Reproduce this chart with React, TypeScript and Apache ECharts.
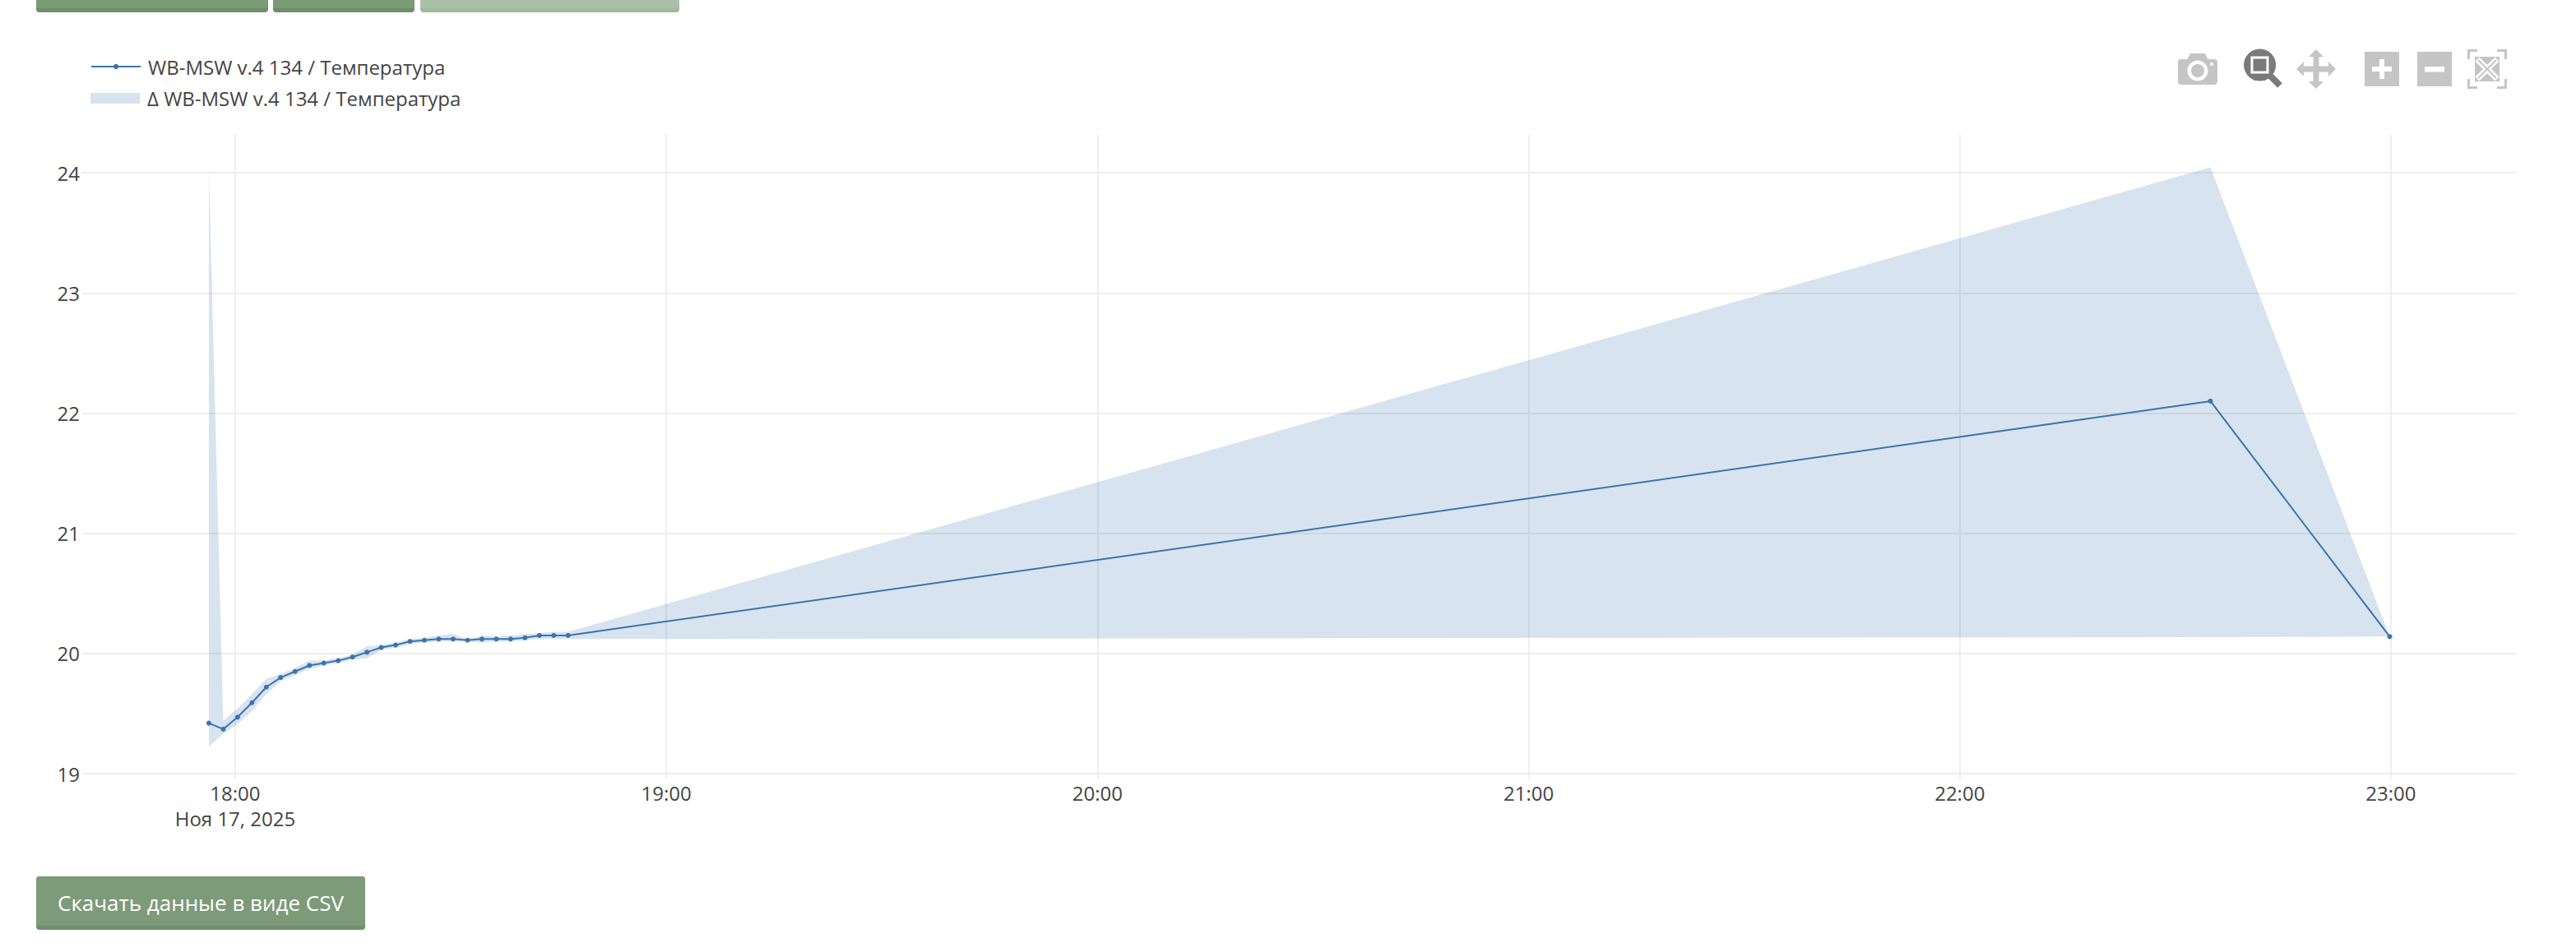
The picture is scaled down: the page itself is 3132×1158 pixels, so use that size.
import React, { useEffect, useRef } from "react";
import * as echarts from "echarts";

const times = [
  "17:56:20","17:58:20","18:00:20","18:02:20","18:04:20","18:06:20","18:08:20","18:10:20",
  "18:12:20","18:14:20","18:16:20","18:18:20","18:20:20","18:22:20","18:24:20","18:26:20",
  "18:28:20","18:30:20","18:32:20","18:34:20","18:36:20","18:38:20","18:40:20","18:42:20",
  "18:44:20","18:46:20","22:34:53","22:59:50",
];
const temperature = [
  19.42,19.37,19.47,19.59,19.72,19.80,19.85,19.90,19.92,19.94,19.97,20.01,20.05,20.07,
  20.10,20.11,20.12,20.12,20.11,20.12,20.12,20.12,20.13,20.15,20.15,20.15,22.10,20.14,
];
const upper = [
  24.05,19.44,19.54,19.66,19.79,19.83,19.88,19.94,19.94,19.96,19.99,20.06,20.07,20.09,
  20.12,20.13,20.15,20.16,20.12,20.15,20.14,20.15,20.16,20.17,20.18,20.18,24.045,20.14,
];
const lower = [
  19.226,19.33,19.41,19.52,19.66,19.77,19.82,19.87,19.90,19.92,19.95,19.96,20.03,20.05,
  20.08,20.09,20.10,20.10,20.10,20.09,20.10,20.10,20.11,20.12,20.12,20.12,20.135,20.14,
];
const hourTicks = ["18:00:00","19:00:00","20:00:00","21:00:00","22:00:00","23:00:00"];
const lineName = "WB-MSW v.4 134 / Температура";
const bandName = "Δ WB-MSW v.4 134 / Температура";
const firstTickLabel = "18:00\nНоя 17, 2025";
const downloadLabel = "Скачать данные в виде CSV";

const FONT = '"Open Sans", "Noto Sans", sans-serif';
const LINE = "#3a74ad";
const BAND = "rgba(55,120,175,0.2)";
const GRID = "#eeeeee";
const ICON = "#c5c5c5";
const day = "2025-11-17T";
const ms = (t: string) => new Date(day + t).getTime();

function button(x: number, y: number, w: number, h: number, fill: string, edge: string, label?: string) {
  const els: any[] = [
    { type: "rect", shape: { x, y, width: w, height: h, r: 4 }, style: { fill: edge }, silent: true },
    { type: "rect", shape: { x, y, width: w, height: h - 5, r: 4 }, style: { fill }, silent: true },
  ];
  if (label) {
    els.push({
      type: "text", x: x + w / 2, y: y + h / 2 - 1, silent: true,
      style: { text: label, fill: "#ffffff", font: `26px ${FONT}`, align: "center", verticalAlign: "middle" },
    });
  }
  return els;
}

function toolbar() {
  const g: any[] = [];
  const rect = (x: number, y: number, w: number, h: number, fill: string, r = 0) =>
    g.push({ type: "rect", shape: { x, y, width: w, height: h, r }, style: { fill }, silent: true });
  const circle = (cx: number, cy: number, r: number, fill: string) =>
    g.push({ type: "circle", shape: { cx, cy, r }, style: { fill }, silent: true });
  const line = (x1: number, y1: number, x2: number, y2: number, stroke: string, lineWidth: number) =>
    g.push({ type: "line", shape: { x1, y1, x2, y2 }, style: { stroke, lineWidth }, silent: true });
  // camera
  rect(2648, 72, 48, 31, ICON, 4);
  g.push({ type: "polygon", shape: { points: [[2659, 73], [2663, 65], [2681, 65], [2685, 73]] }, style: { fill: ICON }, silent: true });
  circle(2672, 86, 12.5, "#ffffff");
  circle(2672, 86, 8, ICON);
  circle(2689, 78, 2, "#ffffff");
  // zoom (active)
  const dark = "#7a7a7a";
  line(2759, 91, 2772, 104, dark, 8);
  circle(2747.6, 79, 19.5, dark);
  g.push({ type: "rect", shape: { x: 2738, y: 70, width: 19, height: 18 }, style: { fill: dark, stroke: "#ffffff", lineWidth: 3 }, silent: true });
  // pan
  const c = [2816, 84];
  const pan = [[0,-24],[9,-15],[3.5,-15],[3.5,-3.5],[15,-3.5],[15,-9],[24,0],[15,9],[15,3.5],[3.5,3.5],[3.5,15],[9,15],[0,24],[-9,15],[-3.5,15],[-3.5,3.5],[-15,3.5],[-15,9],[-24,0],[-15,-9],[-15,-3.5],[-3.5,-3.5],[-3.5,-15],[-9,-15]];
  g.push({ type: "polygon", shape: { points: pan.map(([a, b]) => [c[0] + a, c[1] + b]) }, style: { fill: ICON }, silent: true });
  // plus
  rect(2875, 63, 42, 42, ICON);
  rect(2884, 81, 24, 6, "#ffffff");
  rect(2893, 72, 6, 24, "#ffffff");
  // minus
  rect(2939, 63, 42, 42, ICON);
  rect(2948, 81, 24, 6.5, "#ffffff");
  // autoscale
  const bx = [3000, 3048], by = [60, 108];
  for (const x of bx) for (const y of by) {
    const dx = x === bx[0] ? 0 : -12, dy = y === by[0] ? 0 : -3;
    rect(x + dx, y + dy, 12, 3, ICON);
    rect(x === bx[0] ? x : x - 3, y === by[0] ? y : y - 12, 3, 12, ICON);
  }
  rect(3009, 69, 30, 30, ICON);
  line(3012, 72, 3036, 96, "#ffffff", 7);
  line(3036, 72, 3012, 96, "#ffffff", 7);
  line(3013, 73, 3035, 95, ICON, 2);
  line(3035, 73, 3013, 95, ICON, 2);
  return g;
}

export default function App() {
  const ref = useRef<HTMLDivElement>(null);
  useEffect(() => {
    const chart = echarts.init(ref.current!, undefined, { renderer: "svg" });
    const x = times.map(ms);
    const hours = hourTicks.map(ms);
    const hour18 = ms("18:00:00");
    const legendText = { fontFamily: FONT, fontSize: 24, color: "#444444", padding: [0, 0, 0, 4] };
    chart.setOption({
      animation: false,
      backgroundColor: "#ffffff",
      textStyle: { fontFamily: FONT },
      grid: { left: 100, top: 164, width: 2960, height: 777 },
      legend: [
        {
          left: 105, top: 64, itemWidth: 60, itemHeight: 8, selectedMode: false,
          textStyle: legendText,
          data: [{ name: lineName }],
        },
        {
          left: 105, top: 102.5, itemWidth: 60, itemHeight: 13, selectedMode: false,
          textStyle: legendText,
          data: [{ name: bandName, icon: "rect", itemStyle: { color: BAND } }],
        },
      ],
      xAxis: {
        type: "value",
        min: ms("17:38:43"),
        max: ms("23:17:31"),
        axisLine: { show: false },
        axisTick: { show: true, length: 7, customValues: hours, lineStyle: { color: GRID, width: 2 } },
        splitLine: { show: true, lineStyle: { color: GRID, width: 2 } },
        axisLabel: {
          fontFamily: FONT, fontSize: 24, color: "#444444", lineHeight: 31, margin: 8,
          customValues: hours, hideOverlap: false,
          formatter: (v: number) => {
            const d = new Date(v);
            if (v === hour18) return firstTickLabel;
            return String(d.getHours()).padStart(2, "0") + ":00";
          },
        },
      },
      yAxis: {
        type: "value", min: 19, max: 24.316, interval: 1,
        axisLine: { show: false },
        axisTick: { show: false },
        splitLine: { show: true, showMaxLine: false, lineStyle: { color: GRID, width: 2 } },
        axisLabel: {
          fontFamily: FONT, fontSize: 24, color: "#444444", margin: 3, showMaxLabel: false,
          formatter: (v: number) => (Number.isInteger(v) ? String(v) : ""),
        },
      },
      series: [
        {
          name: bandName, type: "custom", silent: true,
          itemStyle: { color: BAND },
          encode: { x: 0, y: [1, 2] },
          data: x.map((t, i) => [t, lower[i], upper[i]]),
          renderItem: (params: any, api: any) => {
            if (params.dataIndex !== 0) return null;
            const top = x.map((t, i) => api.coord([t, upper[i]]));
            const bottom = x.map((t, i) => api.coord([t, lower[i]])).reverse();
            return { type: "polygon", shape: { points: [...top, ...bottom] }, style: { fill: BAND }, silent: true };
          },
        },
        {
          name: lineName, type: "line", symbol: "circle", symbolSize: 6, silent: true,
          lineStyle: { color: LINE, width: 2 },
          itemStyle: { color: LINE },
          data: x.map((t, i) => [t, temperature[i]]),
        },
      ],
      graphic: { elements: [
        ...button(44, -20, 282, 35, "#7b9b76", "#6e8e6a"),
        ...button(332, -20, 172, 35, "#7b9b76", "#6e8e6a"),
        ...button(511, -20, 315, 35, "#aac0a6", "#a0b89c"),
        ...button(44, 1066, 400, 65, "#7d9b78", "#729070", downloadLabel),
        ...toolbar(),
      ] },
    });
    return () => chart.dispose();
  }, []);
  return <div ref={ref} style={{ position: "absolute", left: 0, top: 0, width: 3132, height: 1158 }} />;
}
